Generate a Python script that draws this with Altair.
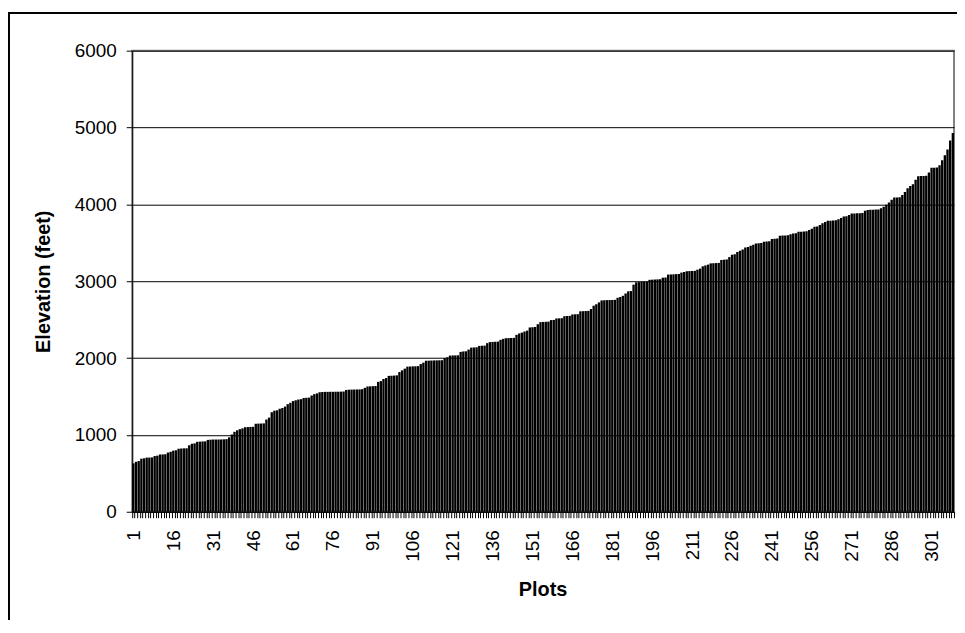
import altair as alt
import pandas as pd

# Elevation (feet) of plots, sorted ascending
elevations = [
    630, 650, 660, 690, 695, 705, 705, 707, 725, 730,
    745, 746, 748, 770, 780, 795, 800, 820, 823, 825,
    826, 865, 885, 890, 910, 912, 915, 916, 935, 938,
    940, 940, 940, 941, 942, 945, 968, 1005, 1040, 1060,
    1075, 1085, 1100, 1102, 1104, 1105, 1145, 1147, 1148, 1150,
    1200, 1225, 1295, 1315, 1320, 1340, 1350, 1368, 1400, 1418,
    1440, 1450, 1460, 1465, 1480, 1483, 1485, 1512, 1530, 1540,
    1555, 1558, 1560, 1560, 1561, 1561, 1562, 1562, 1563, 1565,
    1585, 1588, 1590, 1590, 1591, 1592, 1595,
    1612,
    1630, 1632, 1634, 1636,
    1690, 1700, 1728, 1740,
    1768, 1770, 1772, 1775,
    1818, 1840, 1862,
    1888, 1890, 1892, 1893, 1895,
    1922, 1940,
    1965, 1966, 1968, 1969, 1970, 1971, 1972,
    2000, 2010,
    2032, 2034, 2035, 2036,
    2080, 2086, 2088,
    2110,
    2136, 2138, 2140,
    2158, 2160, 2162,
    2194,
    2208, 2210, 2212, 2214,
    2237, 2250,
    2258, 2260, 2261, 2263,
    2302, 2320, 2331, 2345, 2357,
    2398, 2401, 2404,
    2440,
    2468, 2470, 2472, 2474,
    2494, 2496,
    2515, 2517, 2519,
    2545, 2547, 2549,
    2567, 2569, 2571,
    2608, 2610, 2612, 2614,
    2638, 2681, 2700, 2724,
    2750, 2752, 2754, 2755, 2756, 2758,
    2784, 2795, 2810, 2840,
    2868, 2872,
    2955,
    2985, 2988, 2991, 2993, 2995,
    3018, 3020, 3022, 3024, 3026,
    3046, 3048,
    3086, 3088, 3090, 3092, 3094,
    3112, 3120,
    3130, 3132, 3133, 3135,
    3150, 3164, 3194, 3205, 3216,
    3232, 3234, 3236, 3238,
    3276, 3280, 3283,
    3314,
    3345, 3350,
    3379, 3395, 3413,
    3440, 3445,
    3460, 3474,
    3490, 3495, 3497,
    3514, 3517, 3519,
    3548, 3552, 3555,
    3592, 3595, 3596, 3598,
    3610,
    3622, 3625,
    3642, 3645, 3647, 3649,
    3665, 3681,
    3708, 3712,
    3730, 3754, 3770,
    3786, 3788, 3790, 3792,
    3805, 3823,
    3842, 3846,
    3862,
    3880, 3882, 3883, 3885, 3886,
    3918,
    3928, 3930, 3931, 3932, 3934,
    3950, 3970, 3995, 4025, 4060,
    4088, 4090, 4093,
    4121, 4160, 4211, 4240, 4263, 4320,
    4365, 4368, 4370, 4372,
    4413,
    4475, 4478, 4480,
    4508, 4573, 4640, 4715, 4832, 4930,
]
plots = list(range(1, len(elevations) + 1))
y_ticks = [0, 1000, 2000, 3000, 4000, 5000, 6000]

df = pd.DataFrame({"Plot": plots, "Elevation": elevations})

FONT = "Liberation Sans"

bars = alt.Chart(df).mark_bar(color="black").encode(
    x=alt.X(
        "Plot:O",
        sort=plots,
        scale=alt.Scale(paddingInner=0.12, paddingOuter=0),
        axis=alt.Axis(
            title="Plots",
            labelExpr="(datum.value - 1) % 15 == 0 ? datum.label : ''",
            labelOverlap=False,
            labelAngle=270,
            labelAlign="right",
            labelBaseline="middle",
            labelFont=FONT,
            labelFontSize=19,
            labelColor="black",
            labelPadding=12,
            tickBand="extent",
            tickSize=6,
            tickColor="black",
            domainColor="black",
            domainWidth=1,
            grid=False,
            titleFont=FONT,
            titleFontSize=20,
            titleFontWeight="bold",
            titleColor="black",
            titleX=413,
            titleY=78,
            titleAlign="center",
            titleBaseline="middle",
        ),
    ),
    y=alt.Y(
        "Elevation:Q",
        scale=alt.Scale(domain=[0, 6000], nice=False),
        axis=alt.Axis(
            title="Elevation (feet)",
            values=y_ticks,
            format="d",
            labelFont=FONT,
            labelFontSize=19,
            labelColor="black",
            labelPadding=10,
            tickSize=6,
            tickColor="black",
            domainColor="black",
            domainWidth=1,
            grid=True,
            gridColor="black",
            gridWidth=1,
            titleFont=FONT,
            titleFontSize=20,
            titleFontWeight="bold",
            titleColor="black",
            titleX=-89,
            titleY=232,
            titleAngle=270,
            titleAlign="center",
            titleBaseline="middle",
        ),
    ),
)

frame_df = pd.DataFrame({"k": [0]})
border = alt.Chart(frame_df).mark_rect(
    filled=False, stroke="black", strokeWidth=2
).encode(
    x=alt.value(-124),
    x2=alt.value(880),
    y=alt.value(-38),
    y2=alt.value(700),
)

chart = alt.layer(bars, border).properties(
    width=827,
    height=464,
    autosize=alt.AutoSizeParams(type="none"),
    padding={"left": 125, "top": 41, "right": 3, "bottom": 107},
    background="white",
).configure_view(
    stroke="#808080",
    strokeWidth=2,
)

chart.save("out.html", embed_options={"renderer": "svg", "actions": False})
